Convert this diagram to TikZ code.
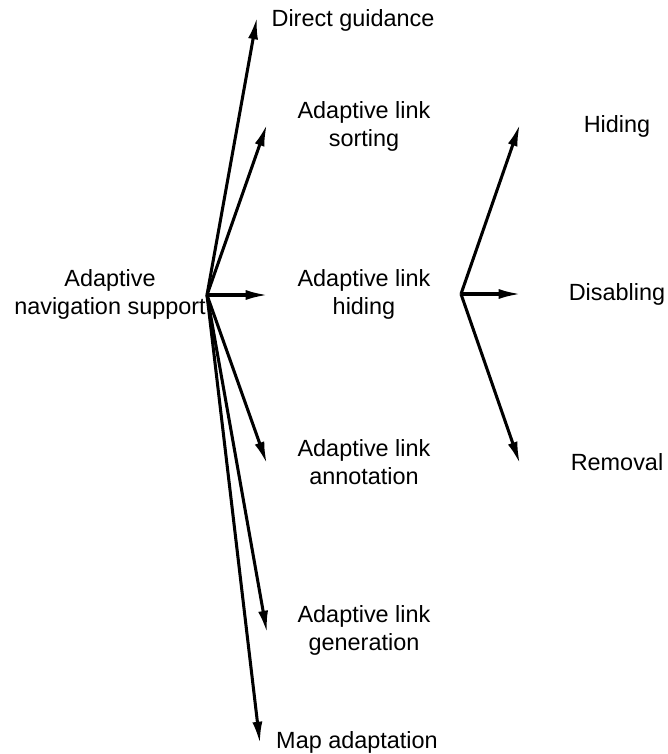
\documentclass[tikz,border=0pt]{standalone}
\usepackage{fontspec}
\setmainfont{Liberation Sans}
\usetikzlibrary{arrows.meta}
\begin{document}
\begin{tikzpicture}[x=0.03cm,y=-0.03cm,
    every node/.style={font=\fontsize{20}{24}\selectfont, align=center, inner sep=0pt},
    link/.style={-{Latex[length=19pt,width=8.5pt]}, line width=2.6pt}]
      \useasboundingbox (0,0) rectangle (667,754);
      \draw
        (110,294) node (nav){Adaptive\\navigation support}
        (353,20) node (direct){Direct guidance}
        (364,126) node (sorting){Adaptive link\\sorting}
        (364,294) node (hiding){Adaptive link\\hiding}
        (364,462) node (annot){Adaptive link\\annotation}
        (364,630) node (gen){Adaptive link\\generation}
        (357,742) node (map){Map adaptation}
        (617,126) node (hide){Hiding}
        (617,294) node (disable){Disabling}
        (617,462) node (remove){Removal};
      % start and end points of the arrows
      \coordinate (o1) at (207,295);
      \coordinate (o2) at (461,294);
      \coordinate (t1) at (257,17);
      \coordinate (t2) at (267,124);
      \coordinate (t3) at (268,295);
      \coordinate (t4) at (267,464);
      \coordinate (t5) at (267,633);
      \coordinate (t6) at (260,744);
      \coordinate (t7) at (520,124);
      \coordinate (t8) at (521,294);
      \coordinate (t9) at (520,464);
      \begin{scope}[link]
        \draw (o1) to (t1);
        \draw (o1) to (t2);
        \draw (o1) to (t3);
        \draw (o1) to (t4);
        \draw (o1) to (t5);
        \draw (o1) to (t6);
        \draw (o2) to (t7);
        \draw (o2) to (t8);
        \draw (o2) to (t9);
      \end{scope}
    \end{tikzpicture}
\end{document}
